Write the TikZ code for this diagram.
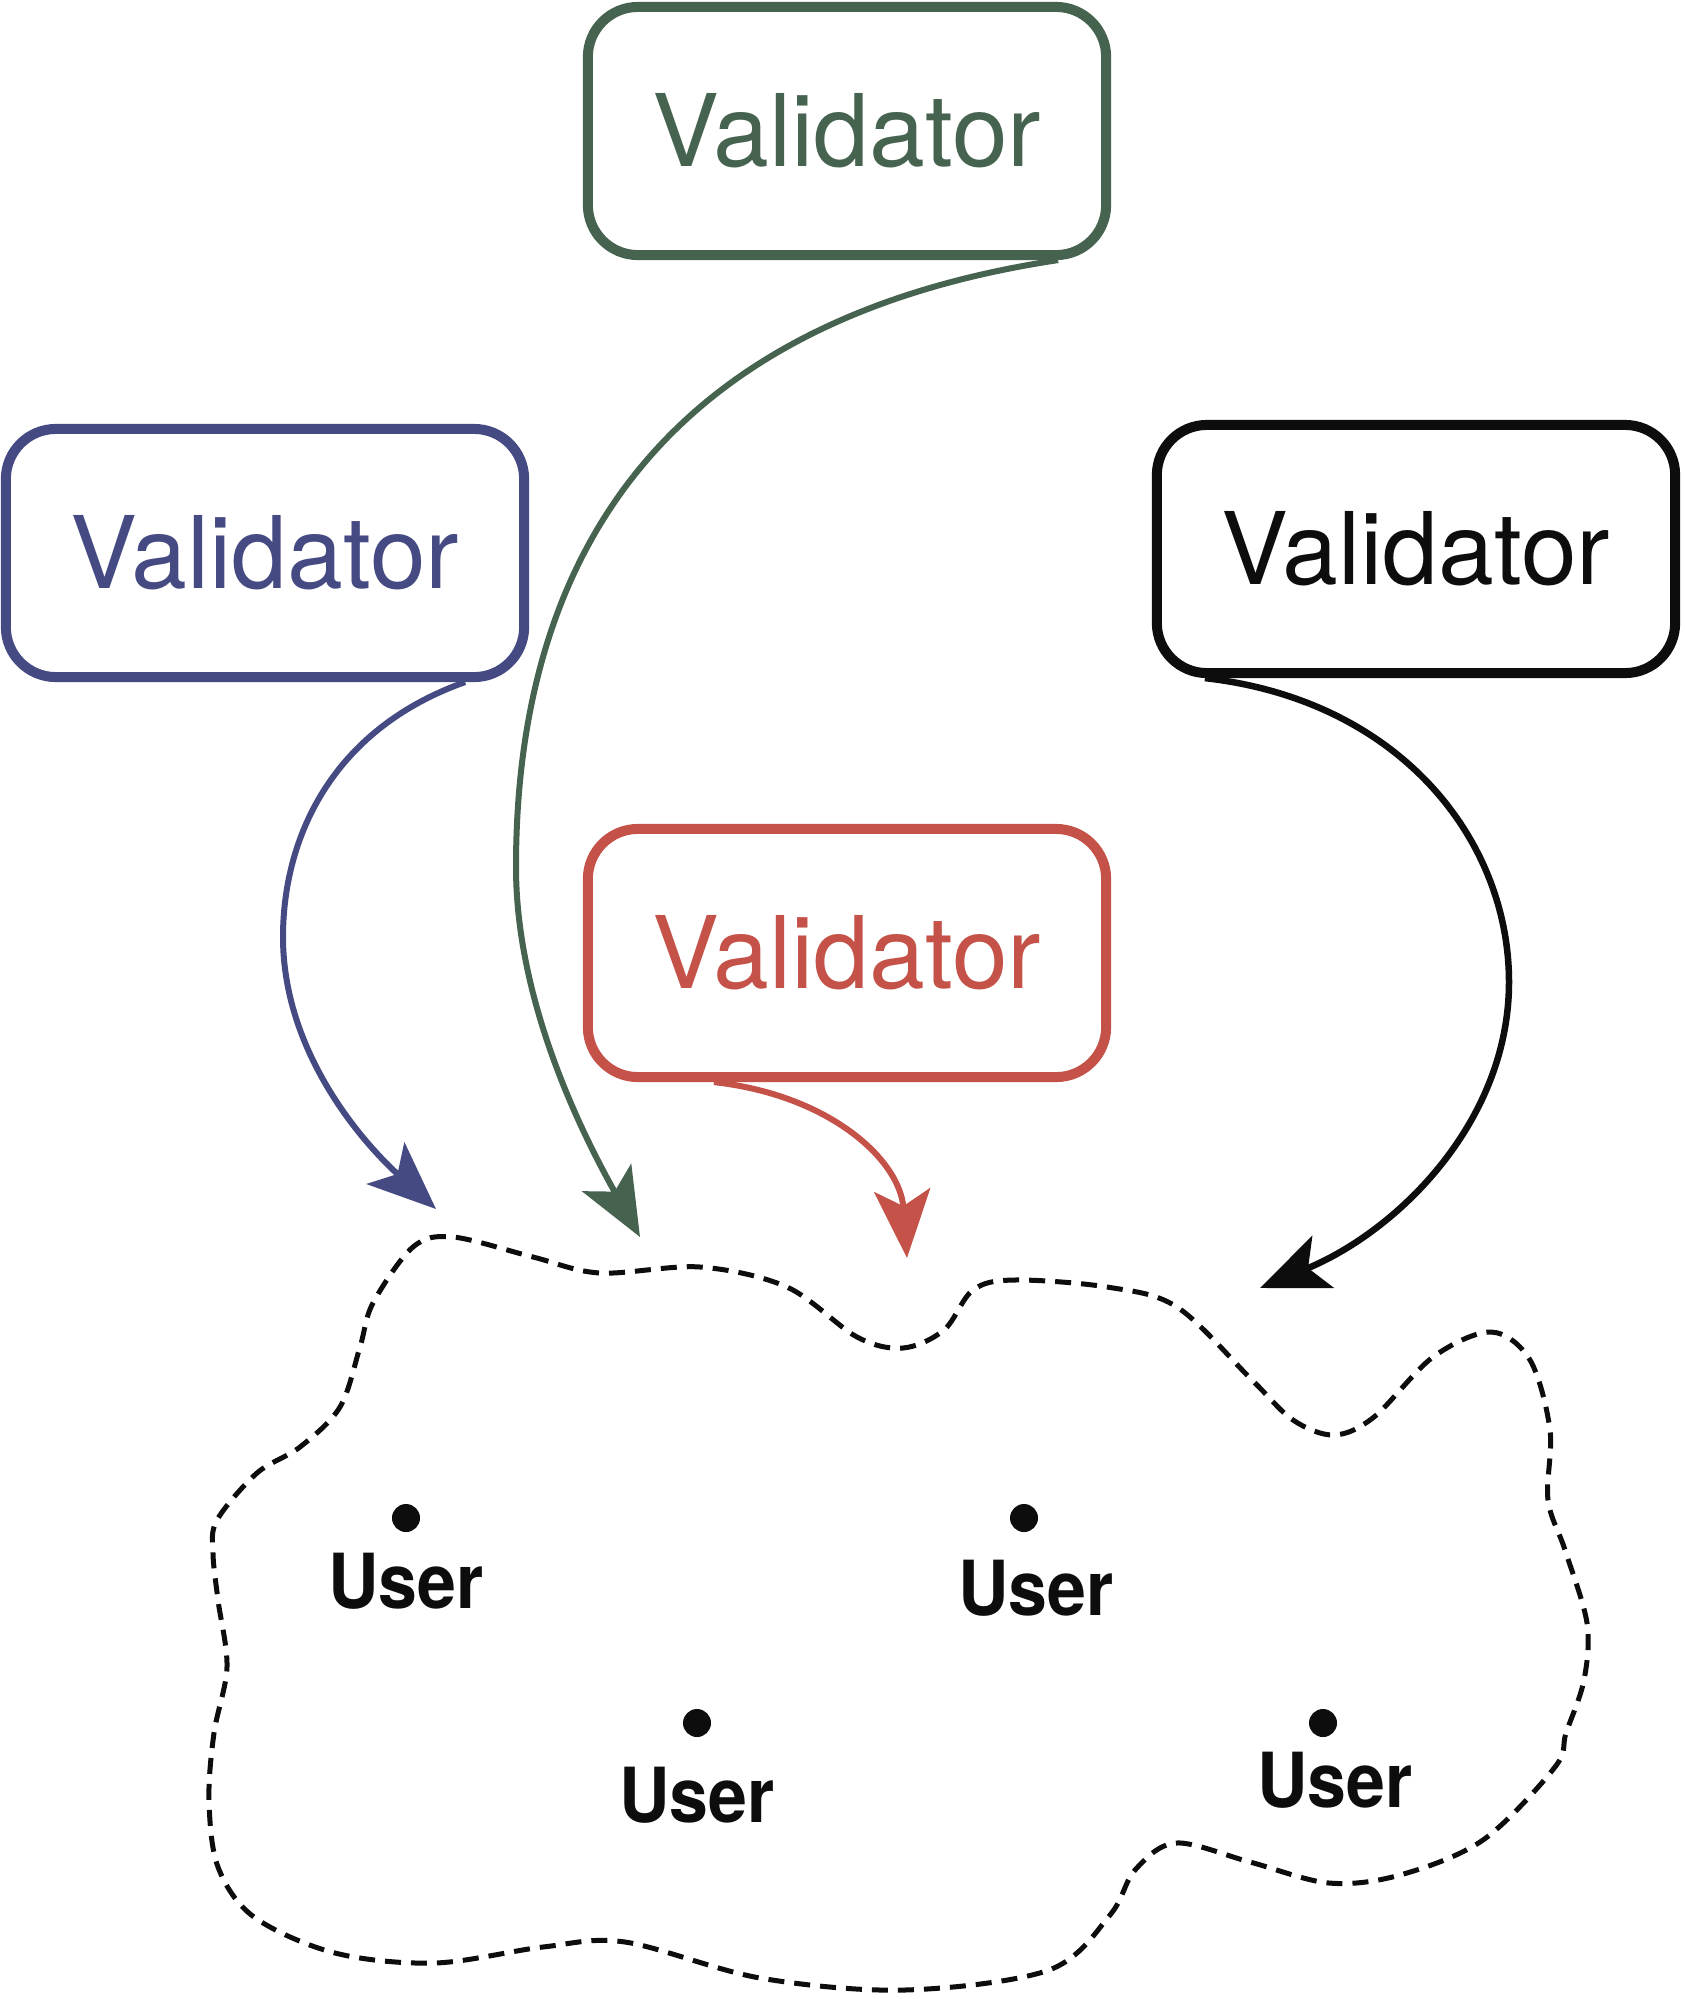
\documentclass[tikz,border=0pt]{standalone}
\usepackage{fontspec}
\setmainfont{TeX Gyre Heros}
\newfontfamily\userfont[FakeStretch=0.92]{TeX Gyre Heros Bold}
\usepackage{xcolor}
\usetikzlibrary{arrows.meta,positioning,calc}

\definecolor{valgreen}{RGB}{70,99,80}
\definecolor{valblue}{RGB}{70,74,130}
\definecolor{valred}{RGB}{196,82,72}
\definecolor{valblack}{RGB}{13,13,13}

\begin{document}
\begin{tikzpicture}[
  x=0.01cm, y=-0.01cm,
  >={Stealth[length=6.8mm, width=5.6mm, inset=1.6mm]},
  box/.style={draw, line width=0.1cm, rounded corners=5mm,
              minimum width=5.18cm, minimum height=2.48cm, inner sep=0pt,
              font=\fontsize{28.5pt}{31pt}\selectfont},
  arrow/.style={->, line width=0.06cm},
  userdot/.style={circle, fill=valblack, inner sep=0pt, minimum size=2.8mm},
  usertext/.style={anchor=base, inner sep=0pt, text=valblack,
                   font=\userfont\fontsize{21.6pt}{24pt}\selectfont},
  cloud/.style={line width=0.05cm, valblack, dash pattern=on 1.6mm off 1mm},
]
\useasboundingbox (0,0) rectangle (1684,1999);

% === Validators ===
\node[box, draw=valgreen, text=valgreen] (vgreen) at (847,131) {Validator};
\node[box, draw=valblue, text=valblue] (vblue) at (265,553) {Validator};
\node[box, draw=valblack, text=valblack] (vblack) at (1416,549) {Validator};
\node[box, draw=valred, text=valred] (vred) at (847,953) {Validator};

% === Network of users ===
\draw[cloud] plot[smooth cycle, tension=0.55] coordinates {
  (453,1237) (533,1257) (600,1273) (700,1267) (787,1287) (857,1337)
  (903,1348) (944,1330) (973,1290) (1014,1280) (1107,1287) (1177,1307)
  (1252,1380) (1293,1420) (1334,1435) (1374,1417) (1433,1357) (1491,1332)
  (1530,1360) (1550,1430) (1548,1500) (1565,1550) (1587,1623) (1584,1680)
  (1566,1733) (1555,1767) (1483,1840) (1400,1875) (1329,1883) (1250,1862)
  (1176,1843) (1135,1870) (1110,1915) (1049,1970) (905,1990) (760,1978)
  (625,1942) (543,1947) (435,1963) (335,1953) (254,1917) (218,1867)
  (209,1800) (214,1733) (227,1667) (218,1600) (213,1553) (217,1520)
  (257,1473) (300,1447) (340,1407) (360,1347) (373,1303) (413,1247)};

\node[userdot] (dot1) at (406,1518) {};
\node[userdot] (dot2) at (1024,1518) {};
\node[userdot] (dot3) at (697,1723) {};
\node[userdot] (dot4) at (1323,1723) {};

\node[usertext] (user1) at (406,1608) {User};
\node[usertext] (user2) at (1036,1615) {User};
\node[usertext] (user3) at (697,1822) {User};
\node[usertext] (user4) at (1335,1807) {User};

% === Arrows into the network ===
\coordinate (tipblue) at (436,1209);
\coordinate (tipgreen) at (640,1237);
\coordinate (tipred) at (907,1258);
\coordinate (tipblack) at (1260,1288);

\draw[arrow, valblue] ([xshift=2cm]vblue.south)
  .. controls (330,730) and (283,840) .. (283,937)
  .. controls (283,1050) and (360,1140) .. (tipblue);
\draw[arrow, valgreen] ([xshift=2.11cm]vgreen.south)
  .. controls (660,320) and (516,560) .. (516,867)
  .. controls (516,1000) and (580,1130) .. (tipgreen);
\draw[arrow, valred] ([xshift=-1.33cm]vred.south)
  .. controls (830,1095) and (900,1160) .. (tipred);
\draw[arrow, valblack, line width=0.065cm] ([xshift=-2.11cm]vblack.south)
  .. controls (1400,700) and (1509,840) .. (1509,982)
  .. controls (1509,1120) and (1400,1230) .. (tipblack);

\end{tikzpicture}
\end{document}
